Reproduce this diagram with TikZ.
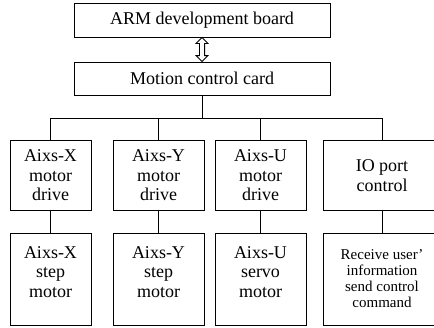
\documentclass[tikz,border=0pt]{standalone}
\usepackage{fontspec}
\setmainfont{Liberation Serif}
\usetikzlibrary{shapes.arrows,calc}
\begin{document}
\begin{tikzpicture}[x=1pt,y=-1pt,
  box/.style={draw, line width=0.8pt, align=center, inner sep=0pt,
    font=\fontsize{18}{19.5}\selectfont},
  wire/.style={line width=0.8pt}]
\useasboundingbox (0,0) rectangle (434,327);
\node[box, minimum width=256pt, minimum height=34pt] (arm) at (202,20) {ARM development board};
\node[box, minimum width=256pt, minimum height=33pt] (mcc) at (202,78.5) {Motion control card};
\node[draw, line width=0.8pt, double arrow, rotate=90, minimum height=24pt,
  inner sep=2.2pt, double arrow head extend=3.3pt] (dbl)
  at ($(arm.south)!0.5!(mcc.north)$) {};
\coordinate (bus) at (202,118);
% row 2
\node[box, minimum width=81pt, minimum height=70pt] (dx) at (50.5,175.5) {Aixs-X\\motor\\drive};
\node[box, minimum width=91pt, minimum height=70pt] (dy) at (158.5,175.5) {Aixs-Y\\motor\\drive};
\node[box, minimum width=91pt, minimum height=70pt] (du) at (260.5,175.5) {Aixs-U\\motor\\drive};
\node[box, minimum width=118pt, minimum height=70pt] (dio) at (382,175.5) {IO port\\control};
% row 3
\node[box, minimum width=81pt, minimum height=92pt, text depth=14pt] (mx) at (50.5,279) {Aixs-X\\step\\motor};
\node[box, minimum width=91pt, minimum height=92pt, text depth=14pt] (my) at (158.5,279) {Aixs-Y\\step\\motor};
\node[box, minimum width=91pt, minimum height=92pt, text depth=14pt] (mu) at (260.5,279) {Aixs-U\\servo\\motor};
\node[box, minimum width=118pt, minimum height=92pt, font=\fontsize{15}{16}\selectfont] (mio) at (382,279) {Receive user’\\information\\send control\\command};
% connectors
\draw[wire] (mcc.south) -- (bus);
\draw[wire] (dx.north) -- (dx.north |- bus) -- (dio.north |- bus) -- (dio.north);
\draw[wire] (dy.north) -- (dy.north |- bus);
\draw[wire] (du.north) -- (du.north |- bus);
\draw[wire] (dx) -- (mx);
\draw[wire] (dy) -- (my);
\draw[wire] (du) -- (mu);
\draw[wire] (dio) -- (mio);
\end{tikzpicture}
\end{document}
